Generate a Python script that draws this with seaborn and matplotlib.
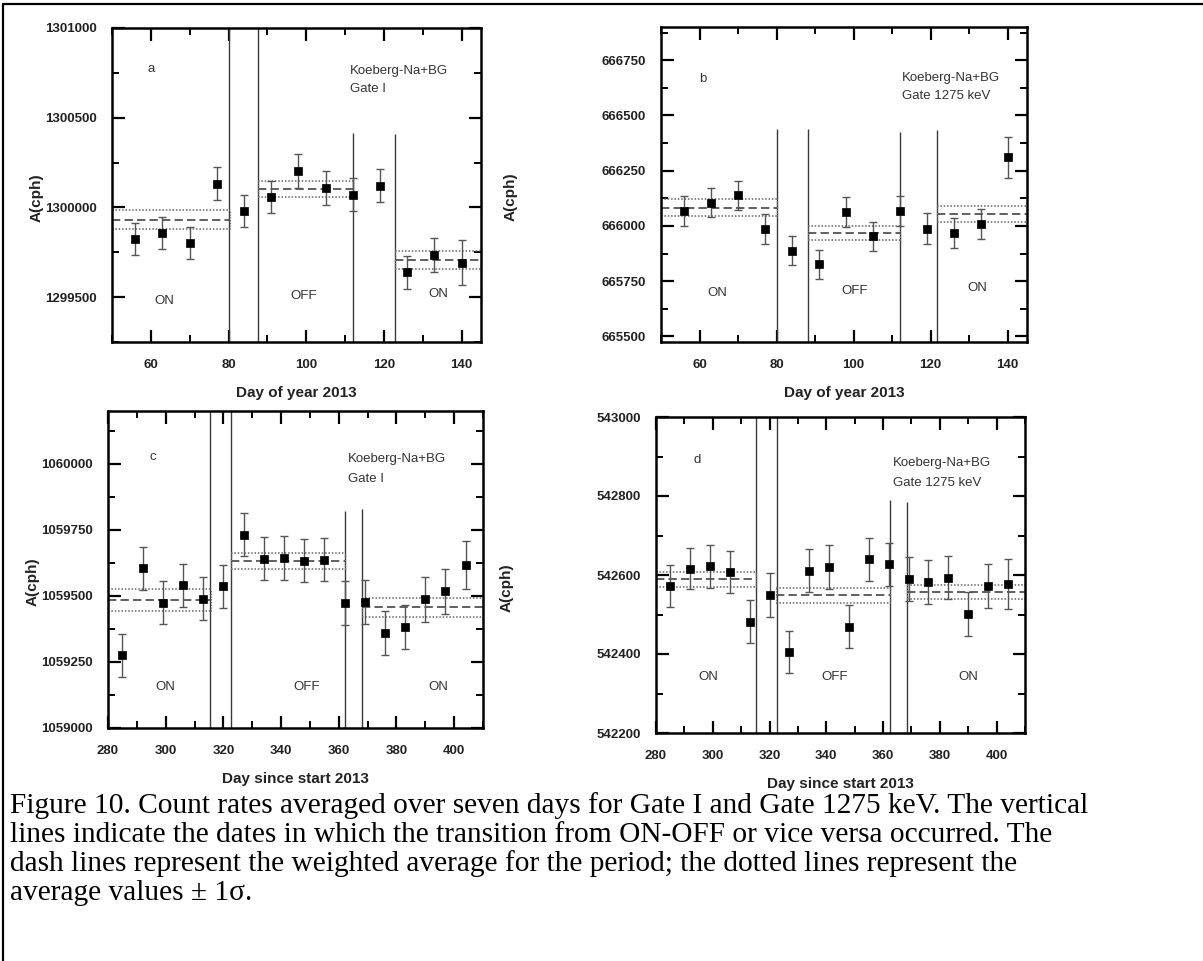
import matplotlib
matplotlib.use("Agg")
import matplotlib.pyplot as plt
import seaborn as sns
import numpy as np
import pandas as pd
from matplotlib.ticker import MultipleLocator, FuncFormatter
from matplotlib.lines import Line2D

# ---------------- data ----------------
week_ab = [56, 63, 70, 77, 84, 91, 98, 105, 112, 119, 126, 133, 140]
week_cd = [285, 292, 299, 306, 313, 320, 327, 334, 341, 348, 355, 362, 369, 376, 383, 390, 397, 404]

a_rate = [1299824, 1299858, 1299800, 1300133, 1299982, 1300059, 1300202, 1300108,
          1300071, 1300122, 1299639, 1299735, 1299691]
a_err = [91, 90, 89, 92, 90, 91, 93, 93, 92, 92, 92, 94, 126]
a_start = [50, 87.6, 122.9]
a_end = [80.4, 112.1, 145]
a_mean = [1299932, 1300104, 1299708]
a_sigma = [53, 44, 50]
a_vline = [80.2, 87.7, 112.1, 122.9]
a_vtop = [1301000, 1301000, 1300417, 1300410]

b_rate = [666066, 666106, 666139, 665986, 665888, 665826, 666062, 665953,
          666066, 665988, 665967, 666008, 666310]
b_err = [68, 66, 66, 66, 66, 67, 68, 66, 68, 69, 68, 69, 91]
b_start = [50, 88.05, 121.7]
b_end = [80.1, 112.1, 145]
b_mean = [666082, 665967, 666056]
b_sigma = [38, 32, 36]
b_vline = [80.1, 88.05, 112.1, 121.7]
b_vtop = [666438, 666438, 666427, 666436]

c_rate = [1059275, 1059605, 1059475, 1059540, 1059490, 1059536, 1059732, 1059641, 1059643,
          1059633, 1059637, 1059473, 1059477, 1059359, 1059382, 1059487, 1059517, 1059618]
c_err = [81, 82, 82, 82, 82, 82, 80, 82, 82, 82, 82, 84, 84, 84, 84, 84, 84, 90]
c_start = [280, 322.6, 367.9]
c_end = [315.6, 362, 410]
c_mean = [1059486, 1059633, 1059457]
c_sigma = [42, 30, 37]
c_vline = [315.3, 322.7, 362, 368]
c_vtop = [1060200, 1060200, 1059820, 1059828]

d_rate = [542573, 542616, 542622, 542607, 542482, 542549, 542405, 542611, 542620,
          542469, 542640, 542627, 542590, 542582, 542593, 542501, 542572, 542578]
d_err = [53, 52, 54, 53, 54, 55, 54, 54, 55, 55, 54, 55, 55, 56, 55, 56, 55, 63]
d_start = [280, 322.3, 368.3]
d_end = [315.4, 362.3, 410]
d_mean = [542589, 542549, 542557]
d_sigma = [19, 19, 17]
d_vline = [315.4, 322.5, 362.5, 368.3]
d_vtop = [543000, 543000, 542790, 542786]

period_labels = ["ON", "OFF", "ON"]
info_title = "Koeberg-Na+BG"
gate_a = "Gate I"
gate_b = "Gate 1275 keV"
xlabel_top = "Day of year 2013"
xlabel_bottom = "Day since start 2013"
ylabel = "A(cph)"
caption_lines = [
    "Figure 10. Count rates averaged over seven days for Gate I and Gate 1275 keV. The vertical",
    "lines indicate the dates in which the transition from ON-OFF or vice versa occurred. The",
    "dash lines represent the weighted average for the period; the dotted lines represent the",
    "average values \u00b1 1\u03c3.",
]

# ---------------- style ----------------
sns.set_theme(style="ticks")
plt.rcParams["font.family"] = ["Liberation Sans", "DejaVu Sans"]
plt.rcParams["font.weight"] = "bold"

W, H = 1203, 961
fig = plt.figure(figsize=(W / 100, H / 100), dpi=100)
fig.patch.set_facecolor("white")


def rect(left, top, right, bottom):
    return [left / W, 1 - bottom / H, (right - left) / W, (bottom - top) / H]


def panel(r, x, y, err, starts, ends, means, sigmas, vx, vtop, xlim, ylim,
          ymaj, ymin, xlabel, letter, letter_xy, gate, info_xy, gate_y,
          onoff_x, onoff_y, ylab_x, xlab_y):
    ax = fig.add_axes(r)
    ax.set_facecolor("white")
    ax.set_xlim(xlim)
    ax.set_ylim(ylim)
    # transition lines
    ax.vlines(vx, ylim[0], vtop, colors="#3a3a3a", lw=1.0, zorder=1)
    # weighted averages and +/- 1 sigma
    for s, e, m, sg in zip(starts, ends, means, sigmas):
        ax.hlines(m, s, e, colors="#444444", lw=1.2, linestyles=(0, (5, 2.5)), zorder=2)
        ax.hlines([m - sg, m + sg], s, e, colors="#666666", lw=1.1,
                  linestyles=(0, (1, 1.2)), zorder=2)
        for xe in (s, e):
            ax.vlines(xe, m - sg, m + sg, colors="#777777", lw=0.9,
                      linestyles=(0, (1, 1.2)), zorder=2)
    df = pd.DataFrame({"day": x, "rate": y, "err": err})
    ax.errorbar(df["day"], df["rate"], yerr=df["err"], fmt="none", ecolor="#555555",
                elinewidth=1.0, capsize=2.6, capthick=1.0, zorder=3)
    sns.scatterplot(data=df, x="day", y="rate", marker="s", color="black",
                    edgecolor="black", s=26, linewidth=0.5, ax=ax, zorder=4, legend=False)
    # ticks
    ax.xaxis.set_major_locator(MultipleLocator(20))
    ax.xaxis.set_minor_locator(MultipleLocator(10))
    ax.yaxis.set_major_locator(MultipleLocator(ymaj))
    ax.yaxis.set_minor_locator(MultipleLocator(ymin))
    ax.yaxis.set_major_formatter(FuncFormatter(lambda v, p: f"{v:.0f}"))
    ax.xaxis.set_major_formatter(FuncFormatter(lambda v, p: f"{v:.0f}"))
    ax.tick_params(which="both", direction="in", top=True, right=True,
                   colors="black", labelcolor="#222222", labelsize=9.5)
    ax.tick_params(which="major", length=9, width=1.6)
    ax.tick_params(which="minor", length=5, width=1.4)
    ax.tick_params(axis="y", which="major", pad=11)
    ax.tick_params(axis="x", which="major", pad=12)
    for sp in ax.spines.values():
        sp.set_linewidth(1.8)
        sp.set_color("black")
    ax.set_xlabel(xlabel, fontsize=11, fontweight="bold", color="#222222")
    ax.set_ylabel(ylabel, fontsize=11, fontweight="bold", color="#222222")
    ax.xaxis.set_label_coords(0.5, xlab_y)
    ax.yaxis.set_label_coords(ylab_x, 0.46)
    tk = dict(fontsize=9.5, fontweight="normal", color="#333333")
    ax.text(letter_xy[0], letter_xy[1], letter, ha="center", va="center", **tk)
    ax.text(info_xy[0], info_xy[1], info_title, ha="left", va="center", **tk)
    ax.text(info_xy[0], gate_y, gate, ha="left", va="center", **tk)
    for lx, ly, lab in zip(onoff_x, onoff_y, period_labels):
        ax.text(lx, ly, lab, ha="center", va="center", **tk)
    return ax


panel(rect(112, 28, 481, 342), week_ab, a_rate, a_err, a_start, a_end, a_mean, a_sigma,
      a_vline, a_vtop, (50, 145), (1299250, 1301000), 500, 250, xlabel_top,
      "a", (60, 1300771), gate_a, (111.2, 1300761), 1300658,
      [63.4, 99.3, 134], [1299478, 1299509, 1299520], -0.185, -0.141)

panel(rect(661, 27, 1027, 342), week_ab, b_rate, b_err, b_start, b_end, b_mean, b_sigma,
      b_vline, b_vtop, (50, 145), (665475, 666900), 250, 125, xlabel_top,
      "b", (60.8, 666666), gate_b, (112.6, 666669), 666586,
      [64.7, 100.2, 132], [665695, 665706, 665719], -0.391, -0.141)

panel(rect(108, 411, 483, 728), week_cd, c_rate, c_err, c_start, c_end, c_mean, c_sigma,
      c_vline, c_vtop, (280, 410), (1059000, 1060200), 250, 125, xlabel_bottom,
      "c", (295.6, 1060024), gate_a, (363.3, 1060018), 1059943,
      [300, 348.8, 394.6], [1059157, 1059157, 1059157], -0.181, -0.139)

panel(rect(656, 417, 1025, 733), week_cd, d_rate, d_err, d_start, d_end, d_mean, d_sigma,
      d_vline, d_vtop, (280, 410), (542200, 543000), 200, 100, xlabel_bottom,
      "d", (294.6, 542891), gate_b, (363.6, 542883), 542834,
      [298.4, 343, 390], [542343, 542343, 542343], -0.385, -0.139)

# caption
baselines = [813, 842, 871, 900]
for line, by in zip(caption_lines, baselines):
    fig.text(10 / W, 1 - by / H, line, ha="left", va="baseline", fontsize=21.2,
             fontweight="normal", color="black",
             family=["Liberation Serif", "DejaVu Serif"])

# outer frame (top and left edges)
fig.add_artist(Line2D([3 / W, 1], [1 - 4 / H, 1 - 4 / H], transform=fig.transFigure,
                      color="black", lw=1.6))
fig.add_artist(Line2D([3 / W, 3 / W], [0, 1 - 4 / H], transform=fig.transFigure,
                      color="black", lw=1.6))

fig.savefig("out.png", dpi=100, facecolor="white")
